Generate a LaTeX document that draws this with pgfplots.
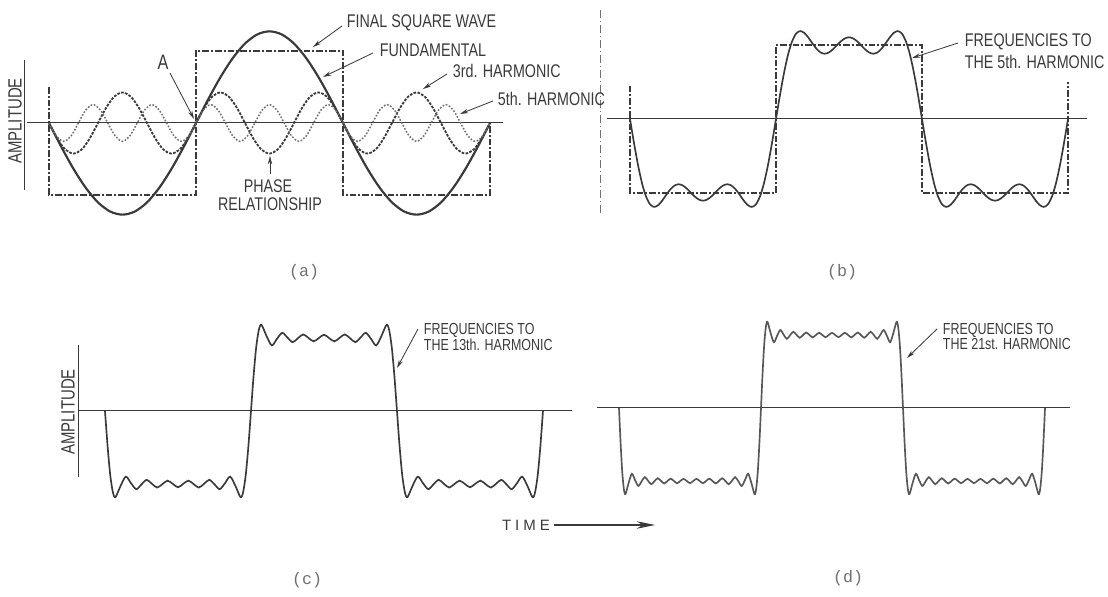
\documentclass[border=0pt]{standalone}
\usepackage{pgfplots}
\pgfplotsset{compat=1.18}
\usepackage{fontspec}
\setmainfont{Liberation Sans}
\newfontfamily\lab[FakeStretch=0.78]{Liberation Sans}
\newfontfamily\mono{Liberation Mono}
\usetikzlibrary{arrows.meta}
\definecolor{ink}{HTML}{3A3A3A}
\definecolor{inkl}{HTML}{707070}
\pgfplotsset{panel/.style={scale only axis, axis lines=none, ticks=none, clip=false, anchor=south west, ymin=-1.4, ymax=1.4}}
\tikzset{lbl/.style={ink, line width=0.5pt, -{Stealth[length=5pt,width=2.6pt]}}}
\begin{document}
\begin{tikzpicture}
\path[use as bounding box] (0,0) rectangle (664.8pt,358.2pt);
% ---------------- (a)
\begin{axis}[panel, at={(14.7pt,223.92pt)}, width=289.1pt, height=120.96pt, xmin=-30, xmax=560]
\addplot[ink, line width=0.6pt] coordinates {(-26.9,0) (555.9,0)};
\addplot[ink, line width=0.8pt, dash pattern=on 4pt off 1.2pt on 1.2pt off 1.2pt] coordinates {(0,0.5)(0,-1)(180,-1)(180,1)(360,1)(360,-1)(540,-1)(540,0)};
\addplot[ink, line width=1.3pt, smooth] coordinates {(0,0)(15,-0.330)(30,-0.637)(45,-0.900)(60,-1.103)(75,-1.230)(90,-1.273)(105,-1.230)(120,-1.103)(135,-0.900)(150,-0.637)(165,-0.330)(180,0)(195,0.330)(210,0.637)(225,0.900)(240,1.103)(255,1.230)(270,1.273)(285,1.230)(300,1.103)(315,0.900)(330,0.637)(345,0.330)(360,0)(375,-0.330)(390,-0.637)(405,-0.900)(420,-1.103)(435,-1.230)(450,-1.273)(465,-1.230)(480,-1.103)(495,-0.900)(510,-0.637)(525,-0.330)(540,0)};
\addplot[ink, line width=1.1pt, smooth, dash pattern=on 1.6pt off 0.8pt] coordinates {(0,0)(10,-0.212)(20,-0.368)(30,-0.424)(40,-0.368)(50,-0.212)(60,0)(70,0.212)(80,0.368)(90,0.424)(100,0.368)(110,0.212)(120,0)(130,-0.212)(140,-0.368)(150,-0.424)(160,-0.368)(170,-0.212)(180,0)(190,0.212)(200,0.368)(210,0.424)(220,0.368)(230,0.212)(240,0)(250,-0.212)(260,-0.368)(270,-0.424)(280,-0.368)(290,-0.212)(300,0)(310,0.212)(320,0.368)(330,0.424)(340,0.368)(350,0.212)(360,0)(370,-0.212)(380,-0.368)(390,-0.424)(400,-0.368)(410,-0.212)(420,0)(430,0.212)(440,0.368)(450,0.424)(460,0.368)(470,0.212)(480,0)(490,-0.212)(500,-0.368)(510,-0.424)(520,-0.368)(530,-0.212)(540,0)};
\addplot[inkl, line width=0.9pt, smooth, dash pattern=on 1pt off 1pt] coordinates {(0,0)(9,-0.180)(18,-0.255)(27,-0.180)(36,0)(45,0.180)(54,0.255)(63,0.180)(72,0)(81,-0.180)(90,-0.255)(99,-0.180)(108,0)(117,0.180)(126,0.255)(135,0.180)(144,0)(153,-0.180)(162,-0.255)(171,-0.180)(180,0)(189,0.180)(198,0.255)(207,0.180)(216,0)(225,-0.180)(234,-0.255)(243,-0.180)(252,0)(261,0.180)(270,0.255)(279,0.180)(288,0)(297,-0.180)(306,-0.255)(315,-0.180)(324,0)(333,0.180)(342,0.255)(351,0.180)(360,0)(369,-0.180)(378,-0.255)(387,-0.180)(396,0)(405,0.180)(414,0.255)(423,0.180)(432,0)(441,-0.180)(450,-0.255)(459,-0.180)(468,0)(477,0.180)(486,0.255)(495,0.180)(504,0)(513,-0.180)(522,-0.255)(531,-0.180)(540,0)};
\end{axis}
% ---------------- (b)
\begin{axis}[panel, at={(363.4pt,224.64pt)}, width=292.0pt, height=124.32pt, xmin=-30, xmax=570]
\addplot[ink, line width=0.6pt] coordinates {(-28.4,0) (563.4,0)};
\addplot[ink, line width=0.8pt, dash pattern=on 4pt off 1.2pt on 1.2pt off 1.2pt] coordinates {(0,0.45)(0,-1)(180,-1)(180,1)(360,1)(360,-1)(540,-1)(540,0.5)};
\addplot[ink, line width=1.0pt, smooth] coordinates {(0,0)(5,-0.329)(10,-0.628)(15,-0.876)(20,-1.054)(25,-1.157)(30,-1.188)(35,-1.162)(40,-1.099)(45,-1.020)(50,-0.948)(55,-0.899)(60,-0.882)(65,-0.898)(70,-0.940)(75,-0.996)(80,-1.050)(85,-1.089)(90,-1.104)(95,-1.089)(100,-1.050)(105,-0.996)(110,-0.940)(115,-0.898)(120,-0.882)(125,-0.899)(130,-0.948)(135,-1.020)(140,-1.099)(145,-1.162)(150,-1.188)(155,-1.157)(160,-1.054)(165,-0.876)(170,-0.628)(175,-0.329)(180,0)(185,0.329)(190,0.628)(195,0.876)(200,1.054)(205,1.157)(210,1.188)(215,1.162)(220,1.099)(225,1.020)(230,0.948)(235,0.899)(240,0.882)(245,0.898)(250,0.940)(255,0.996)(260,1.050)(265,1.089)(270,1.104)(275,1.089)(280,1.050)(285,0.996)(290,0.940)(295,0.898)(300,0.882)(305,0.899)(310,0.948)(315,1.020)(320,1.099)(325,1.162)(330,1.188)(335,1.157)(340,1.054)(345,0.876)(350,0.628)(355,0.329)(360,0)(365,-0.329)(370,-0.628)(375,-0.876)(380,-1.054)(385,-1.157)(390,-1.188)(395,-1.162)(400,-1.099)(405,-1.020)(410,-0.948)(415,-0.899)(420,-0.882)(425,-0.898)(430,-0.940)(435,-0.996)(440,-1.050)(445,-1.089)(450,-1.104)(455,-1.089)(460,-1.050)(465,-0.996)(470,-0.940)(475,-0.898)(480,-0.882)(485,-0.899)(490,-0.948)(495,-1.020)(500,-1.099)(505,-1.162)(510,-1.188)(515,-1.157)(520,-1.054)(525,-0.876)(530,-0.628)(535,-0.329)(540,0)};
\end{axis}
% ---------------- (c)
\begin{axis}[panel, at={(43.53pt,50.28pt)}, width=301.73pt, height=122.64pt, xmin=-40, xmax=580]
\addplot[ink, line width=0.6pt] coordinates {(-33.3,0) (575.8,0)};
\addplot[ink, line width=1.0pt, smooth] coordinates {(0,0)(3.21,-0.483)(6.43,-0.873)(9.64,-1.108)(12.86,-1.181)(19.29,-1.024)(25.71,-0.899)(32.14,-0.990)(38.57,-1.071)(45,-1.005)(51.43,-0.943)(57.86,-0.997)(64.29,-1.049)(70.71,-1.002)(77.14,-0.954)(83.57,-0.998)(90,-1.045)(96.43,-0.998)(102.86,-0.954)(109.29,-1.002)(115.71,-1.049)(122.14,-0.997)(128.57,-0.943)(135,-1.005)(141.43,-1.071)(147.86,-0.990)(154.29,-0.899)(160.71,-1.024)(167.14,-1.181)(170.36,-1.108)(173.57,-0.873)(176.79,-0.483)(180,0)(183.21,0.483)(186.43,0.873)(189.64,1.108)(192.86,1.181)(199.29,1.024)(205.71,0.899)(212.14,0.990)(218.57,1.071)(225,1.005)(231.43,0.943)(237.86,0.997)(244.29,1.049)(250.71,1.002)(257.14,0.954)(263.57,0.998)(270,1.045)(276.43,0.998)(282.86,0.954)(289.29,1.002)(295.71,1.049)(302.14,0.997)(308.57,0.943)(315,1.005)(321.43,1.071)(327.86,0.990)(334.29,0.899)(340.71,1.024)(347.14,1.181)(350.36,1.108)(353.57,0.873)(356.79,0.483)(360,0)(363.21,-0.483)(366.43,-0.873)(369.64,-1.108)(372.86,-1.181)(379.29,-1.024)(385.71,-0.899)(392.14,-0.990)(398.57,-1.071)(405,-1.005)(411.43,-0.943)(417.86,-0.997)(424.29,-1.049)(430.71,-1.002)(437.14,-0.954)(443.57,-0.998)(450,-1.045)(456.43,-0.998)(462.86,-0.954)(469.29,-1.002)(475.71,-1.049)(482.14,-0.997)(488.57,-0.943)(495,-1.005)(501.43,-1.071)(507.86,-0.990)(514.29,-0.899)(520.71,-1.024)(527.14,-1.181)(530.36,-1.108)(533.57,-0.873)(536.79,-0.483)(540,0)};
\end{axis}
% ---------------- (d)
\begin{axis}[panel, at={(357.2pt,52.08pt)}, width=286.37pt, height=122.64pt, xmin=-30, xmax=575]
\addplot[ink, line width=0.6pt] coordinates {(-27.9,0) (571.7,0)};
\addplot[ink!85, line width=1.0pt, smooth] coordinates {(0,0)(2.05,-0.483)(4.09,-0.873)(6.14,-1.108)(8.18,-1.180)(12.27,-1.024)(16.36,-0.901)(20.45,-0.990)(24.55,-1.068)(28.64,-1.005)(32.73,-0.947)(36.82,-0.997)(40.91,-1.044)(45,-1.002)(49.09,-0.962)(53.18,-0.998)(57.27,-1.034)(61.36,-1.001)(65.45,-0.968)(69.55,-0.999)(73.64,-1.030)(77.73,-1.000)(81.82,-0.971)(85.91,-1.000)(90,-1.029)(94.09,-1.000)(98.18,-0.971)(102.27,-1.000)(106.36,-1.030)(110.45,-0.999)(114.55,-0.968)(118.64,-1.001)(122.73,-1.034)(126.82,-0.998)(130.91,-0.962)(135,-1.002)(139.09,-1.044)(143.18,-0.997)(147.27,-0.947)(151.36,-1.005)(155.45,-1.068)(159.55,-0.990)(163.64,-0.901)(167.73,-1.024)(171.82,-1.180)(173.86,-1.108)(175.91,-0.873)(177.95,-0.483)(180,0)(182.05,0.483)(184.09,0.873)(186.14,1.108)(188.18,1.180)(192.27,1.024)(196.36,0.901)(200.45,0.990)(204.55,1.068)(208.64,1.005)(212.73,0.947)(216.82,0.997)(220.91,1.044)(225,1.002)(229.09,0.962)(233.18,0.998)(237.27,1.034)(241.36,1.001)(245.45,0.968)(249.55,0.999)(253.64,1.030)(257.73,1.000)(261.82,0.971)(265.91,1.000)(270,1.029)(274.09,1.000)(278.18,0.971)(282.27,1.000)(286.36,1.030)(290.45,0.999)(294.55,0.968)(298.64,1.001)(302.73,1.034)(306.82,0.998)(310.91,0.962)(315,1.002)(319.09,1.044)(323.18,0.997)(327.27,0.947)(331.36,1.005)(335.45,1.068)(339.55,0.990)(343.64,0.901)(347.73,1.024)(351.82,1.180)(353.86,1.108)(355.91,0.873)(357.95,0.483)(360,0)(362.05,-0.483)(364.09,-0.873)(366.14,-1.108)(368.18,-1.180)(372.27,-1.024)(376.36,-0.901)(380.45,-0.990)(384.55,-1.068)(388.64,-1.005)(392.73,-0.947)(396.82,-0.997)(400.91,-1.044)(405,-1.002)(409.09,-0.962)(413.18,-0.998)(417.27,-1.034)(421.36,-1.001)(425.45,-0.968)(429.55,-0.999)(433.64,-1.030)(437.73,-1.000)(441.82,-0.971)(445.91,-1.000)(450,-1.029)(454.09,-1.000)(458.18,-0.971)(462.27,-1.000)(466.36,-1.030)(470.45,-0.999)(474.55,-0.968)(478.64,-1.001)(482.73,-1.034)(486.82,-0.998)(490.91,-0.962)(495,-1.002)(499.09,-1.044)(503.18,-0.997)(507.27,-0.947)(511.36,-1.005)(515.45,-1.068)(519.55,-0.990)(523.64,-0.901)(527.73,-1.024)(531.82,-1.180)(533.86,-1.108)(535.91,-0.873)(537.95,-0.483)(540,0)};
\end{axis}
% ---------------- annotations (pixel coordinates, y downward)
\begin{scope}[x=0.6pt,y=-0.6pt,yshift=358.2pt]
\def\fa{\lab\fontsize{11}{13}\selectfont}
\def\fc{\lab\fontsize{9.6}{11}\selectfont}
% amplitude labels
\draw[ink, line width=0.6pt] (24,60) -- (24,190);
\node[rotate=90, text=ink, font=\lab\fontsize{11.5}{13}\selectfont] at (15,121) {AMPLITUDE};
\draw[ink, line width=0.6pt] (78,345) -- (78,477);
\node[rotate=90, text=ink, font=\lab\fontsize{11.5}{13}\selectfont] at (68,412) {AMPLITUDE};
% divider
\draw[inkl, line width=0.6pt, dash pattern=on 5pt off 1.5pt on 1pt off 1.5pt] (600,10) -- (600,213);
% (a) labels
\node[anchor=west, text=ink, font=\fa] at (341,23) {FINAL SQUARE WAVE};
\draw[lbl] (342,26) -- (313,47);
\node[anchor=west, text=ink, font=\fa] at (374,50) {FUNDAMENTAL};
\draw[lbl] (373,53) -- (323,77);
\node[anchor=west, text=ink, font=\fa] at (447,71) {3rd. HARMONIC};
\draw[lbl] (447,74) -- (423,89);
\node[anchor=west, text=ink, font=\fa] at (492,99) {5th. HARMONIC};
\draw[lbl] (493,101) -- (460,114);
\node[text=ink, font=\lab\fontsize{12.5}{14}\selectfont] at (163,62) {A};
\draw[lbl] (170,73) -- (194,119);
\node[text=ink, font=\fa] at (268,186) {PHASE};
\node[text=ink, font=\fa] at (270,204) {RELATIONSHIP};
\draw[lbl] (270,174) -- (270,156);
% (b)
\node[anchor=west, text=ink, font=\fa] at (959,42) {FREQUENCIES TO};
\node[anchor=west, text=ink, font=\fa] at (959,62) {THE 5th. HARMONIC};
\draw[lbl] (958,43) -- (912,58);
% (c)
\node[anchor=west, text=ink, font=\fc] at (418,330) {FREQUENCIES TO};
\node[anchor=west, text=ink, font=\fc] at (418,345) {THE 13th. HARMONIC};
\draw[lbl] (418,329) -- (397,368);
% (d)
\node[anchor=west, text=ink, font=\fc] at (937,330) {FREQUENCIES TO};
\node[anchor=west, text=ink, font=\fc] at (937,344) {THE 21st. HARMONIC};
\draw[lbl] (937,329) -- (907,358);
% time arrow
\node[text=ink, font=\fontsize{9}{11}\selectfont] at (526,525) {T\hspace{2.4pt}I\hspace{2.4pt}M\hspace{2.4pt}E};
\draw[ink, line width=0.7pt, -{Stealth[length=11pt,width=4.5pt]}] (554,525) -- (655,525);
% panel letters
\node[text=inkl, font=\mono\fontsize{10}{12}\selectfont] at (304,272) {(a)};
\node[text=inkl, font=\mono\fontsize{10}{12}\selectfont] at (842,272) {(b)};
\node[text=inkl, font=\mono\fontsize{10}{12}\selectfont] at (307,580) {(c)};
\node[text=inkl, font=\mono\fontsize{10}{12}\selectfont] at (848,578) {(d)};
\end{scope}
\end{tikzpicture}
\end{document}
